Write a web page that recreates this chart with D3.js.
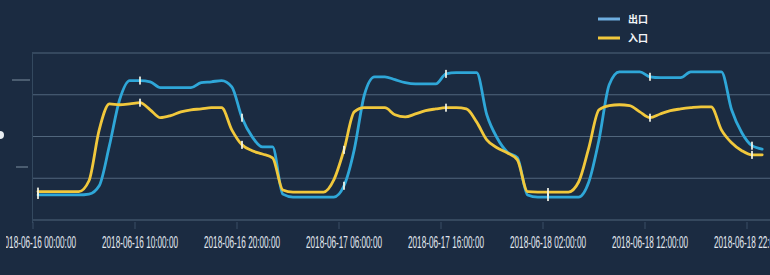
<!DOCTYPE html>
<html>
<head>
<meta charset="utf-8">
<script src="https://cdn.jsdelivr.net/npm/d3@7"></script>
<style>
  body { margin: 0; background: #1b2b41; overflow: hidden; }
  .tickLabel { font-family: "Liberation Sans Narrow", "Liberation Sans", sans-serif; font-size: 12px; fill: #e2e8f0; }
  .legendText { font-family: "Noto Sans CJK SC", sans-serif; font-size: 10px; font-weight: bold; fill: #f2f4f7; }
</style>
</head>
<body>
<div id="chart"></div>
<script>
// hourly samples, 2018-06-16 00:00 .. 2018-06-18 23:00
var startTime = "2018-06-16 00:00:00";

var outValues = [60, 60, 60, 60, 60, 62, 82, 178, 288, 334, 334, 331, 317, 317, 317, 317, 329, 331, 334, 319, 245, 199, 175, 175,
  62, 55, 55, 55, 55, 55, 82, 168, 300, 343, 343, 336, 329, 326, 326, 326, 350, 353, 353, 353, 252, 197, 163, 149,
  60, 55, 55, 55, 55, 55, 91, 192, 324, 355, 355, 355, 343, 341, 341, 341, 355, 355, 355, 355, 264, 209, 178, 170];

var inValues = [68, 68, 68, 68, 68, 94, 216, 278, 276, 278, 281, 264, 245, 250, 259, 264, 266, 269, 269, 216, 180, 166, 158, 149,
  72, 67, 67, 67, 67, 96, 168, 259, 269, 269, 269, 252, 247, 254, 262, 266, 269, 269, 266, 235, 192, 173, 161, 144,
  68, 67, 67, 67, 67, 91, 173, 264, 274, 276, 274, 259, 245, 254, 262, 266, 269, 271, 271, 216, 185, 166, 156, 156];

var seriesNames = ["出口", "入口"];
var seriesColors = ["#2fa7d8", "#f1c83c"];

var tickLabels = ["2018-06-16 00:00:00", "2018-06-16 10:00:00", "2018-06-16 20:00:00", "2018-06-17 06:00:00",
  "2018-06-17 16:00:00", "2018-06-18 02:00:00", "2018-06-18 12:00:00", "2018-06-18 22:00:00"];

var yTicks = [0, 100, 200, 300, 400];

var svgWidth = 770;
var svgHeight = 275;

var parseTime = d3.timeParse("%Y-%m-%d %H:%M:%S");
var t0 = parseTime(startTime);
var times = outValues.map((d, i) => d3.timeHour.offset(t0, i));
var tickTimes = tickLabels.map((d) => parseTime(d));

var svg = d3.select("#chart")
  .append("svg")
  .attr("width", svgWidth)
  .attr("height", svgHeight);

var xScale = d3.scaleTime()
  .domain([t0, times[times.length - 1]])
  .range([38, 762.2]);

var yScale = d3.scaleLinear()
  .domain([0, 400])
  .range([220, 53]);

// grid
svg.append("g")
  .selectAll("line")
  .data(yTicks)
  .enter()
  .append("line")
  .attr("x1", 32)
  .attr("x2", svgWidth)
  .attr("y1", (d) => yScale(d))
  .attr("y2", (d) => yScale(d))
  .attr("stroke", "#51667c")
  .attr("stroke-width", 1);

svg.append("line")
  .attr("x1", 32.5).attr("x2", 32.5)
  .attr("y1", yScale(400)).attr("y2", yScale(0) + 3)
  .attr("stroke", "#34495f");

// blurry marks on the left edge
svg.append("line").attr("x1", 12).attr("x2", 30).attr("y1", 80).attr("y2", 80)
  .attr("stroke", "#7d8fa0").attr("stroke-width", 1);
svg.append("line").attr("x1", 16).attr("x2", 28).attr("y1", 167).attr("y2", 167)
  .attr("stroke", "#7d8fa0").attr("stroke-width", 1);
svg.append("circle").attr("cx", 0).attr("cy", 135).attr("r", 4).attr("fill", "#e8edf2");

// x axis
var xAxis = svg.append("g")
  .attr("transform", `translate(0, ${yScale(0) + 2})`);

xAxis.selectAll("line")
  .data(tickTimes)
  .enter()
  .append("line")
  .attr("x1", (d) => xScale(d) - 5)
  .attr("x2", (d) => xScale(d) - 5)
  .attr("y1", 0)
  .attr("y2", 7)
  .attr("stroke", "#3a4f66");

svg.append("clipPath")
  .attr("id", "labelClip")
  .append("rect")
  .attr("x", 6).attr("y", 225).attr("width", svgWidth).attr("height", 40);

svg.append("g")
  .attr("clip-path", "url(#labelClip)")
  .selectAll("text")
  .data(tickTimes)
  .enter()
  .append("text")
  .attr("class", "tickLabel")
  .attr("transform", (d) => `translate(${xScale(d) - 38}, 247.5) scale(1, 1.3)`)
  .attr("textLength", 76)
  .attr("lengthAdjust", "spacingAndGlyphs")
  .text((d, i) => tickLabels[i]);

// lines
var line = d3.line()
  .x((d, i) => xScale(times[i]))
  .y((d) => yScale(d))
  .curve(d3.curveMonotoneX);

[outValues, inValues].forEach((values, k) => {
  svg.append("path")
    .datum(values)
    .attr("fill", "none")
    .attr("stroke", seriesColors[k])
    .attr("stroke-width", 2.8)
    .attr("stroke-linecap", "round")
    .attr("d", line);

  svg.append("g")
    .selectAll("rect")
    .data(d3.range(0, values.length, 10))
    .enter()
    .append("rect")
    .attr("x", (d) => xScale(times[d]) - 1)
    .attr("y", (d) => yScale(values[d]) - 4)
    .attr("width", 2)
    .attr("height", 8)
    .attr("fill", "#f4f6e8")
    .attr("opacity", 0.85);
});

// legend
var legend = svg.append("g")
  .attr("transform", "translate(598, 19)");

seriesNames.forEach((name, k) => {
  legend.append("line")
    .attr("x1", 0).attr("x2", 22)
    .attr("y1", k * 19).attr("y2", k * 19)
    .attr("stroke", k === 0 ? "#6eaee0" : seriesColors[k])
    .attr("stroke-width", 3);
  legend.append("text")
    .attr("class", "legendText")
    .attr("x", 30)
    .attr("y", k * 19 + 4)
    .text(name);
});
</script>
</body>
</html>
